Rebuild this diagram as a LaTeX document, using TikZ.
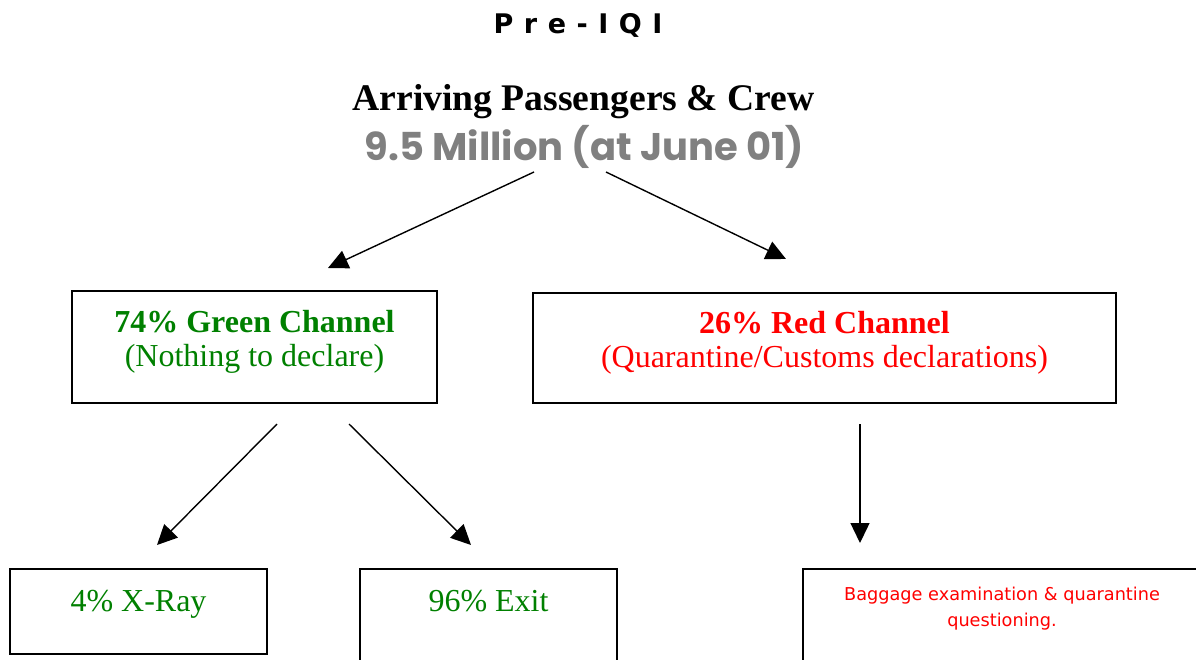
\documentclass[tikz,border=0pt]{standalone}
\usepackage{fontspec}
\setmainfont{Liberation Serif}
\newfontfamily\verdanafont{DejaVu Sans}
\newfontfamily\comicfont{Poppins}
\usetikzlibrary{arrows.meta}
\definecolor{chgreen}{RGB}{0,128,0}
\definecolor{chred}{RGB}{255,0,0}
\definecolor{countgrey}{RGB}{128,128,128}
\newcommand{\padbelow}[1]{\rule[-#1]{0pt}{#1}}
\newcommand{\widespaces}{\spaceskip 10.5pt\relax}
\tikzset{
    flowarrow/.style={
        line width=1.4pt,
        black,
        -{Triangle[length=20pt, width=19pt]}
    },
    chanbox/.style={
        draw=black,
        line width=1.7pt,
        align=center,
        inner sep=0pt,
        font=\fontsize{32}{34}\selectfont
    }
}
\begin{document}
\begin{tikzpicture}[x=1pt, y=-1pt]
        \useasboundingbox (0,0) rectangle (1196,659);
        \clip (0,0) rectangle (1196,659);

        % headings
        \node[anchor=base, font=\verdanafont\bfseries\fontsize{27}{30}\selectfont\widespaces] (preiqi) at (578,33) {P r e - I Q I};
        \node[anchor=base, font=\bfseries\fontsize{37.6}{40}\selectfont] (arriving) at (583.5,110) {Arriving Passengers \& Crew};
        \node[anchor=base, text=countgrey, font=\comicfont\bfseries\fontsize{38.5}{42}\selectfont] (count) at (584.5,160) {9.5 Million (at June 01)};

        % channels
        \node[chanbox, text=chgreen, minimum width=365pt, minimum height=112pt] (green) at (254.5,347)
            {\textbf{74\% Green Channel}\\(Nothing to declare)\padbelow{17pt}};
        \node[chanbox, text=chred, minimum width=583pt, minimum height=110pt] (red) at (824.5,348)
            {\textbf{26\% Red Channel}\\(Quarantine/Customs declarations)\padbelow{17pt}};

        % outcomes
        \node[chanbox, text=chgreen, minimum width=257pt, minimum height=85pt, text height=22pt, text depth=23pt] (xray) at (138.5,611.5) {4\% X-Ray};
        \node[chanbox, text=chgreen, minimum width=257pt, minimum height=131pt, text height=22pt, text depth=69pt] (exit) at (488.5,634.5) {96\% Exit};
        \node[chanbox, text=chred, minimum width=398pt, minimum height=131pt, font=\verdanafont\fontsize{17.7}{26}\selectfont] (baggage) at (1002,634.5)
            {Baggage examination \& quarantine\\questioning.\padbelow{54.5pt}};

        \path
        (534,172) coordinate (count-l)
        (606,172) coordinate (count-r)
        (328,268) coordinate (green-in)
        (786,259) coordinate (red-in)
        (277,424) coordinate (green-l)
        (349,424) coordinate (green-r)
        (860,424) coordinate (red-out)
        (157,545) coordinate (xray-in)
        (471,545) coordinate (exit-in)
        (860,543) coordinate (baggage-in)
        ;

        \draw[flowarrow] (count-l) -- (green-in);
        \draw[flowarrow] (count-r) -- (red-in);
        \draw[flowarrow] (green-l) -- (xray-in);
        \draw[flowarrow] (green-r) -- (exit-in);
        \draw[flowarrow] (red-out) -- (baggage-in);
\end{tikzpicture}
\end{document}
